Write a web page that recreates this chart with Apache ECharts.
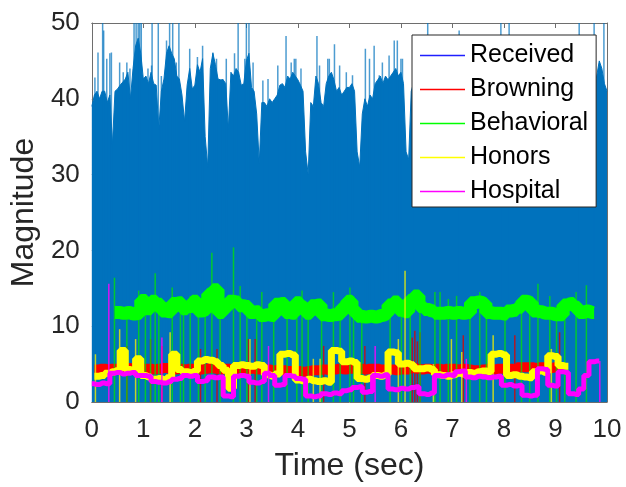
<!DOCTYPE html>
<html>
<head>
<meta charset="utf-8">
<title>Magnitude vs Time</title>
<script src="https://cdn.jsdelivr.net/npm/echarts@6/dist/echarts.min.js"></script>
<style>
  html, body { margin: 0; padding: 0; background: #fff; }
  #chart { width: 626px; height: 487px; }
</style>
</head>
<body>
<div id="chart"></div>
<script>
var FONT = '"Liberation Sans", Arial, Helvetica, sans-serif';

// x axis ticks
var xTicks = [0, 1, 2, 3, 4, 5, 6, 7, 8, 9, 10];
var yTicks = [0, 10, 20, 30, 40, 50];

// Received: upper envelope of the signal, one value every 0.05 s
var receivedStep = 0.05;
var receivedEnvelope = [
  39, 40.5, 41, 40, 41, 41, 39.5, 40.5, 34, 41,
  41.3, 41.8, 42.2, 42.6, 43.5, 40, 44, 47, 48, 46,
  42.6, 43, 42, 43.5, 42, 41.8, 36, 41, 42.6, 46,
  47, 46, 45.3, 43, 42.6, 40.5, 37, 41.8, 44, 41.3,
  41.8, 44.5, 43.5, 45.3, 35, 31, 44, 46, 44.5, 42.6,
  42.5, 42.5, 42, 36, 43.5, 43, 44, 43.5, 41.8, 42,
  45, 46, 41.5, 41, 38, 31.5, 39.5, 39.5, 39, 40,
  39.5, 40, 40.5, 41.8, 42, 41.5, 43, 42.6, 43.5, 43,
  42.5, 41.8, 41, 33, 30, 39.5, 39, 43, 42, 39.5,
  39, 42, 43, 43.5, 42.5, 41, 41.5, 40.5, 41, 41.5,
  41.5, 42, 41, 33, 31, 38, 40, 39, 40.5, 40,
  42, 42.5, 43, 42, 43, 42.5, 43, 43.5, 44, 43,
  43.5, 42, 33, 32, 41, 42.2, 42,
  42, 41, 43, 42, 41, 42, 43, 42, 41, 42,
  43, 42, 41, 42, 42, 43, 41, 42, 42, 43,
  42, 41, 42, 43, 42, 42, 41, 42, 43, 42,
  41, 42, 42, 43, 42, 41, 42, 43, 42, 42,
  41, 42, 43, 42, 41, 42, 42, 43, 42, 41,
  42, 43, 42, 42, 41, 42, 43, 42, 41, 42,
  43, 42, 42, 41, 42, 43, 42, 42, 41, 43,
  45, 44, 42, 41
];
// Received: isolated peaks that rise above the envelope
var receivedPeakTimes = [0.06, 0.12, 0.21, 0.23, 0.29, 0.35, 0.38, 0.54, 0.61, 0.68,
  0.74, 0.82, 0.86, 0.90, 0.93, 0.96, 1.09, 1.16, 1.17, 1.29, 1.35, 1.45, 1.51, 1.57,
  1.64, 1.69, 1.90, 2.05, 2.15, 2.35, 2.42, 2.54, 2.61, 2.77, 2.84, 2.97, 3.00, 3.05,
  3.13, 3.32, 3.42, 3.61, 3.77, 3.87, 3.93, 3.96, 4.06, 4.37, 4.42, 4.58, 4.61, 4.71,
  4.81, 4.94, 5.06, 5.31, 5.39, 5.48, 5.58, 5.64, 5.77, 5.87, 5.93, 6.00, 6.03, 6.23,
  6.52, 7.13, 7.94, 8.10, 9.46, 9.75, 9.94];
var receivedPeakValues = [42.8, 46.1, 50, 49, 45.3, 46, 46.1, 44.8, 43.5, 44.8,
  44, 50, 50, 50, 50, 50, 44, 44.4, 50, 50, 43, 47.7, 50, 50,
  44.8, 50, 46.6, 45.5, 47, 46.1, 45.3, 42.6, 45.3, 46, 50, 45.3, 50, 50,
  44.8, 42.4, 42.6, 44.4, 48.3, 44.8, 45.3, 45.3, 44, 48.3, 44.4, 45.3, 45.3, 47.2,
  44.4, 43.5, 43.1, 46.6, 45.3, 47, 43.1, 44.8, 45.7, 47.7, 47.7, 45.3, 45.3, 42.6,
  50, 49, 50, 50, 50, 50, 50];

// the other four, one value every 0.1 s (null = not drawn)
var levelStep = 0.1;
var browning = [
  null, 4.3, 4.4, 4.3, 4.4, 4.3, 4.4, 4.5, 4.3, 4.3,
  4.4, 4.4, 4.3, 4.4, 4.5, 4.4, 4.3, 4.4, 4.3, 4.4,
  4.4, 4.3, 4.4, 4.5, 4.4, 4.3, 4.4, 4.3, 4.4, 4.4,
  4.3, 4.4, 4.3, 4.3, 4.3, 4.2, 4.2, 4.2, 4.1, 4.1,
  4.1, 4.0, 4.1, 4.2, 4.2, 4.3, 4.2, 4.3, 4.4, 4.3,
  4.4, 4.4, 4.4, 4.3, 4.4, 4.4, 4.3, 4.3, 4.3, 4.2,
  4.3, 4.3, 4.5, 4.4, 4.3, 4.4, 4.3, 4.4, 4.3, 4.4,
  4.4, 4.3, 4.4, 4.3, 4.2, 4.2, 4.3, 4.4, 4.3, 4.4,
  4.4, 4.4, 4.3, 4.6, 4.6, 4.6, 4.5, 4.6, 4.6, 4.5,
  4.6, 4.5, null, null, null, null, null, null, null, null, null
];
var behavioral = [
  null, null, null, null, null, 11.8, 11.7, 11.8, 11.6, 11.7,
  13.4, 12.3, 13.3, 12.9, 12.0, 11.9, 13.0, 13.1, 12.3, 12.6,
  13.3, 12.0, 12.2, 14.2, 14.8, 11.8, 12.5, 13.3, 13.2, 12.7,
  12.6, 11.8, 11.9, 11.4, 11.5, 11.4, 12.9, 13.0, 11.8, 11.7,
  13.1, 12.5, 11.7, 12.7, 12.8, 11.5, 11.4, 11.5, 11.6, 12.5,
  13.3, 12.0, 11.3, 11.2, 11.3, 11.2, 11.4, 11.6, 12.8, 13.2,
  12.1, 11.9, 13.4, 14.0, 12.6, 12.2, 12.0, 11.7, 11.7, 11.8,
  11.7, 11.8, 11.7, 11.8, 13.1, 13.2, 13.0, 11.8, 11.7, 11.7,
  11.6, 12.0, 12.1, 12.5, 13.3, 13.1, 12.0, 11.9, 11.7, 11.7,
  11.5, 11.5, 12.8, 13.0, 12.5, 11.8, 12.0, 11.8, null, null, null
];
var honors = [
  null, 3.4, 3.5, 3.8, 4.0, 4.2, 6.8, 4.3, 4.1, 5.7,
  3.5, 3.3, 3.0, 3.1, 2.9, 3.2, 6.3, 4.3, 4.0, 3.9,
  4.1, 5.4, 5.6, 5.5, 5.3, 4.8, 4.2, 1.8, 4.8, 4.9,
  4.8, 4.7, 4.9, 4.8, 3.6, 3.4, 3.7, 6.3, 6.4, 6.2,
  2.9, 2.8, 3.0, 2.8, 2.7, 2.8, 2.6, 6.8, 6.7, 5.3,
  5.4, 5.2, 3.1, 3.0, 3.2, 3.5, 3.4, 3.6, 6.6, 6.5,
  5.0, 5.1, 4.9, 4.4, 4.4, 4.5, 4.3, 3.6, 3.5, 3.4,
  3.6, 3.8, 3.7, 3.9, 3.8, 4.0, 4.1, 4.0, 6.3, 6.4,
  6.2, 3.5, 3.6, 3.4, 3.3, 3.2, 4.0, 4.1, 3.9, 6.1,
  6.0, 4.8, 4.7, null, null, null, null, null, null, null, null
];
var hospital = [
  2.4, 2.3, 2.5, 2.4, 3.8, 3.9, 3.7, 3.8, 3.9, 3.5,
  3.5, 3.4, 2.7, 2.6, 2.5, 2.7, 3.0, 3.1, 3.5, 3.4,
  3.5, 2.7, 2.8, 3.3, 3.2, 3.3, 0.8, 0.7, 3.4, 3.5,
  3.4, 2.6, 2.5, 2.7, 3.8, 3.5, 2.2, 2.3, 3.5, 3.4,
  3.1, 3.0, 0.8, 0.7, 0.8, 1.1, 1.0, 1.2, 1.1, 1.5,
  1.6, 1.9, 2.0, 1.3, 1.4, 3.5, 3.4, 3.6, 1.7, 1.6,
  1.8, 1.7, 1.9, 2.0, 1.1, 1.0, 1.2, 3.5, 3.4, 3.6,
  3.5, 4.0, 4.1, 3.3, 3.2, 3.4, 3.3, 3.2, 3.3, 3.4,
  2.2, 2.3, 2.1, 2.2, 0.9, 0.8, 0.9, 4.4, 4.3, 2.2,
  2.1, 4.0, 3.9, 1.1, 1.0, 1.7, 3.5, 5.3, 5.4, null, null
];

// brief drop-outs: time of each vertical stroke and the value it reaches
var browningDropTimes = [0.68, 1.14, 1.36, 2.11, 2.43, 3.04, 3.17, 4.50, 5.30, 6.22, 6.27, 6.32, 6.37, 7.21, 8.21, 9.08];
var browningDropTops = [7.4, 8.3, 7.4, 7.0, 7.0, 8.3, 8.3, 7.4, 7.4, 8.5, 9.4, 8.0, 9.2, 8.8, 8.8, 9.2];
var behavioralDropTimes = [0.44, 0.68, 0.91, 1.04, 1.14, 1.23, 1.30, 1.56, 1.72, 1.78,
  1.91, 2.07, 2.20, 2.33, 2.49, 2.75, 2.88, 3.01, 3.20, 3.30, 3.53, 3.79, 3.98, 4.08,
  4.20, 4.46, 4.69, 4.82, 5.01, 5.08, 5.24, 5.79, 6.01, 6.18, 6.37, 6.66, 6.76, 6.92,
  7.08, 7.34, 7.53, 7.66, 8.02, 8.34, 8.50, 8.66, 8.89, 9.02, 9.18, 9.40, 9.60];
var behavioralDropTops = [16.4, 11.6, 14.7, 14.2, 13.6, 17.0, 12.7, 15.1, 13.6, 12.7,
  14.0, 12.7, 12.7, 19.7, 12.7, 20.4, 15.3, 13.1, 12.7, 14.5, 12.7, 12.9, 13.6, 14.7,
  13.1, 12.7, 14.5, 12.7, 15.1, 14.0, 11.8, 13.6, 12.7, 13.1, 12.7, 14.5, 14.5, 13.6,
  14.0, 13.1, 14.5, 13.1, 11.8, 14.0, 13.6, 15.6, 14.0, 12.7, 13.1, 14.5, 15.4];
var honorsDropTimes = [0.07, 0.54, 0.85, 1.52, 3.07, 4.30, 4.43, 5.95, 6.08, 6.63, 6.98, 7.18, 7.79, 8.92];
var honorsDropTops = [6.3, 9.6, 8.3, 9.2, 8.3, 5.7, 5.7, 8.3, 17.3, 5.0, 8.3, 6.6, 8.8, 7.0];
var hospitalDropTimes = [0.33, 1.36, 3.43, 5.50, 7.27, 9.86];
var hospitalDropTops = [15.6, 8.5, 7.4, 7.4, 5.7, 5.4];

var names = ['Received', 'Browning', 'Behavioral', 'Honors', 'Hospital'];
var legendColors = ['#1f1fff', '#ff0000', '#00ff00', '#ffff00', '#ff00ff'];

function toPairs(vals, step) {
  return vals.map(function(v, i) {
    return [+(i * step).toFixed(3), v === null ? '-' : v];
  });
}

function zip(times, vals) {
  return times.map(function(t, i) { return [t, vals[i]]; });
}

function levelLine(name, color, width, vals, z) {
  return {
    name: name,
    type: 'line',
    z: z,
    data: toPairs(vals, levelStep),
    symbol: 'none',
    step: 'middle',
    connectNulls: false,
    lineStyle: { color: color, width: width, join: 'bevel' },
    itemStyle: { color: color }
  };
}

function strokes(name, color, times, tops, z) {
  return {
    name: name,
    type: 'bar',
    z: z,
    data: zip(times, tops),
    barWidth: 1.5,
    barGap: '-100%',
    itemStyle: { color: color }
  };
}

var series = [
  {
    name: 'Received',
    type: 'line',
    z: 1,
    data: toPairs(receivedEnvelope, receivedStep),
    symbol: 'none',
    lineStyle: { color: '#0072BD', width: 1 },
    areaStyle: { color: '#0072BD', opacity: 1 },
    itemStyle: { color: '#0072BD' }
  },
  strokes('Received', 'rgba(0,114,189,0.7)', receivedPeakTimes, receivedPeakValues, 1),
  levelLine('Browning', '#ff0000', 10, browning, 3),
  strokes('Browning', 'rgba(220,0,0,0.8)', browningDropTimes, browningDropTops, 3),
  levelLine('Behavioral', '#00ff00', 13, behavioral, 4),
  strokes('Behavioral', 'rgba(0,230,0,0.75)', behavioralDropTimes, behavioralDropTops, 4),
  levelLine('Honors', '#ffff00', 7, honors, 5),
  strokes('Honors', 'rgba(240,240,0,0.8)', honorsDropTimes, honorsDropTops, 5),
  levelLine('Hospital', '#ff00ff', 5, hospital, 6),
  strokes('Hospital', 'rgba(255,0,255,0.85)', hospitalDropTimes, hospitalDropTops, 6)
];

var axisGray = '#6e6e6e';
var textColor = '#262626';

var myChart = echarts.init(document.getElementById('chart'));
myChart.setOption({
  animation: false,
  backgroundColor: '#ffffff',
  textStyle: { fontFamily: FONT },
  grid: { left: 88, right: 19, top: 23, bottom: 84, containLabel: false },
  legend: {
    orient: 'vertical',
    left: 412,
    top: 35,
    z: 10,
    icon: 'rect',
    itemWidth: 45,
    itemHeight: 1.5,
    itemGap: 9,
    padding: [8, 8, 3, 8],
    backgroundColor: '#ffffff',
    borderColor: textColor,
    borderWidth: 1,
    borderRadius: 0,
    selectedMode: false,
    textStyle: { fontFamily: FONT, fontSize: 25, lineHeight: 24, color: '#000' },
    data: names.map(function(n, i) {
      return { name: n, itemStyle: { color: legendColors[i], borderWidth: 0 } };
    })
  },
  xAxis: [{
    type: 'value',
    min: xTicks[0],
    max: xTicks[xTicks.length - 1],
    interval: 1,
    name: 'Time (sec)',
    nameLocation: 'middle',
    nameGap: 48,
    nameTextStyle: { fontFamily: FONT, fontSize: 32, color: textColor },
    axisLine: { show: true, onZero: false, lineStyle: { color: axisGray, width: 1 } },
    axisTick: { show: true, inside: true, length: 5, lineStyle: { color: axisGray } },
    axisLabel: { fontFamily: FONT, fontSize: 26, color: textColor, margin: 15 },
    splitLine: { show: false }
  }, {
    type: 'value',
    position: 'top',
    min: xTicks[0],
    max: xTicks[xTicks.length - 1],
    interval: 1,
    axisLine: { show: true, onZero: false, lineStyle: { color: axisGray, width: 1 } },
    axisTick: { show: true, inside: true, length: 5, lineStyle: { color: axisGray } },
    axisLabel: { show: false },
    splitLine: { show: false }
  }],
  yAxis: [{
    type: 'value',
    min: yTicks[0],
    max: yTicks[yTicks.length - 1],
    interval: 10,
    name: 'Magnitude',
    nameLocation: 'middle',
    nameGap: 46,
    nameTextStyle: { fontFamily: FONT, fontSize: 32, color: textColor },
    axisLine: { show: true, onZero: false, lineStyle: { color: axisGray, width: 1 } },
    axisTick: { show: true, inside: true, length: 5, lineStyle: { color: axisGray } },
    axisLabel: { fontFamily: FONT, fontSize: 26, color: textColor, margin: 12 },
    splitLine: { show: false }
  }, {
    type: 'value',
    position: 'right',
    min: yTicks[0],
    max: yTicks[yTicks.length - 1],
    interval: 10,
    axisLine: { show: true, onZero: false, lineStyle: { color: axisGray, width: 1 } },
    axisTick: { show: true, inside: true, length: 5, lineStyle: { color: axisGray } },
    axisLabel: { show: false },
    splitLine: { show: false }
  }],
  series: series
});
</script>
</body>
</html>
